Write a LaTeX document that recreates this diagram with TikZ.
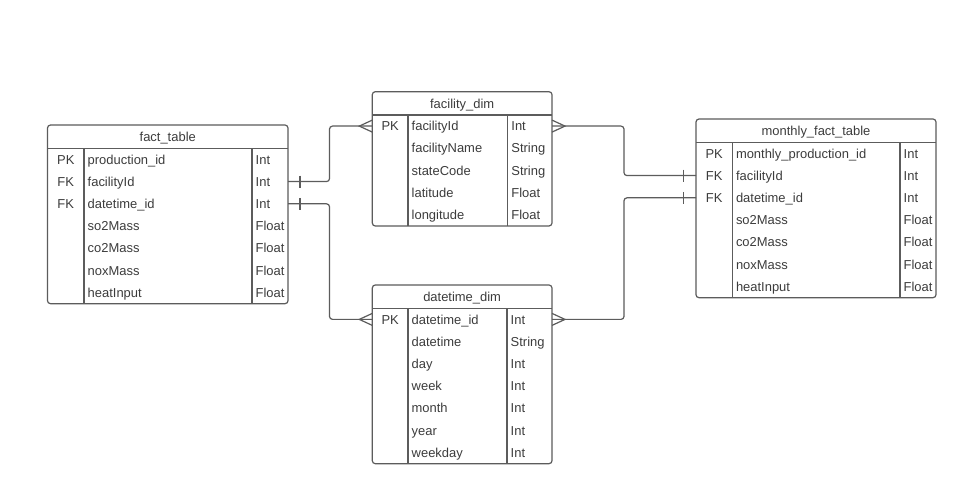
\documentclass[tikz,border=0pt]{standalone}
\usepackage{fontspec}
\setmainfont{Liberation Sans}
\usetikzlibrary{fit,calc}
\definecolor{lc}{RGB}{92,92,92}
\definecolor{tc}{RGB}{60,60,60}
\tikzset{
  ln/.style={draw=lc, line width=1.2bp},
  tbl/.style={ln, rounded corners=3bp, inner sep=0pt, outer sep=0pt},
  txt/.style={text=tc, font=\fontsize{13}{15}\selectfont, inner sep=0pt},
  lefttxt/.style={txt, anchor=base west},
  midtxt/.style={txt, anchor=base},
}
\newcommand\erdtab[9]{% #1 name #2 left #3 top #4 right #5 nrows #6 div1 #7 div2 #8 title #9 rows
  \pgfmathsetmacro\hb{#3+23.3}
  \pgfmathsetmacro\tb{#3+23.3+#5*22.2}
  \node[tbl, fit={(#2,#3) (#4,\tb)}] (#1) {};
  \draw[ln] (#2,\hb) -- (#4,\hb);
  \draw[ln] (#6,\hb) -- (#6,\tb);
  \draw[ln] (#7,\hb) -- (#7,\tb);
  \node[midtxt] (#1-title) at ({(#2+#4)/2},{#3+11.65+4.7}) {#8};
  \foreach \k/\n/\t [count=\i] in {#9} {
    \pgfmathsetmacro\yy{\hb+(\i-0.5)*22.2}
    \coordinate (#1-r\i) at (#2,\yy);
    \node[midtxt] (#1-k\i) at ({(#2+#6)/2},\yy+4.7) {\k};
    \node[lefttxt] (#1-n\i) at (#6+3.5,\yy+4.7) {\n};
    \node[lefttxt] (#1-t\i) at (#7+3.5,\yy+4.7) {\t};
  }
}
\begin{document}
\begin{tikzpicture}[x=1bp,y=-1bp]
\fill[white] (0,0) rectangle (967,498);
\useasboundingbox (0,0) rectangle (967,498);

\erdtab{fact}{47.5}{125}{288}{7}{84}{252}{fact\_table}{PK/production\_id/Int, FK/facilityId/Int, FK/datetime\_id/Int, /so2Mass/Float, /co2Mass/Float, /noxMass/Float, /heatInput/Float}
\erdtab{fdim}{372.3}{91.7}{552}{5}{408}{507.7}{facility\_dim}{PK/facilityId/Int, /facilityName/String, /stateCode/String, /latitude/Float, /longitude/Float}
\erdtab{mft}{696}{119}{936}{7}{732.3}{900}{monthly\_fact\_table}{PK/monthly\_production\_id/Int, FK/facilityId/Int, FK/datetime\_id/Int, /so2Mass/Float, /co2Mass/Float, /noxMass/Float, /heatInput/Float}
\erdtab{ddim}{372.3}{285}{552}{7}{408}{507}{datetime\_dim}{PK/datetime\_id/Int, /datetime/String, /day/Int, /week/Int, /month/Int, /year/Int, /weekday/Int}

% connectors
\draw[ln, rounded corners=3bp] (fact.east |- fact-r2) -- ++(41.5,0) |- (fdim.west |- fdim-r1);
\draw[ln, rounded corners=3bp] (fact.east |- fact-r3) -- ++(41.5,0) |- (ddim.west |- ddim-r1);
\draw[ln, rounded corners=3bp] (fdim.east |- fdim-r1) -- ++(72,0) |- (mft.west |- mft-r2);
\draw[ln, rounded corners=3bp] (ddim.east |- ddim-r1) -- ++(72,0) |- (mft.west |- mft-r3);

% one bars
\draw[ln] ($(fact.east |- fact-r2)+(12,-6)$) -- ++(0,12);
\draw[ln] ($(fact.east |- fact-r3)+(12,-6)$) -- ++(0,12);
\draw[ln] ($(mft.west |- mft-r2)+(-12.5,-6)$) -- ++(0,12);
\draw[ln] ($(mft.west |- mft-r3)+(-12.5,-6)$) -- ++(0,12);

% crow's feet
\draw[ln] ($(fdim.west |- fdim-r1)+(0,-6)$) -- ++(-13,6) -- ++(13,6);
\draw[ln] ($(ddim.west |- ddim-r1)+(0,-6)$) -- ++(-13,6) -- ++(13,6);
\draw[ln] ($(fdim.east |- fdim-r1)+(0,-6)$) -- ++(13,6) -- ++(-13,6);
\draw[ln] ($(ddim.east |- ddim-r1)+(0,-6)$) -- ++(13,6) -- ++(-13,6);
\end{tikzpicture}
\end{document}
